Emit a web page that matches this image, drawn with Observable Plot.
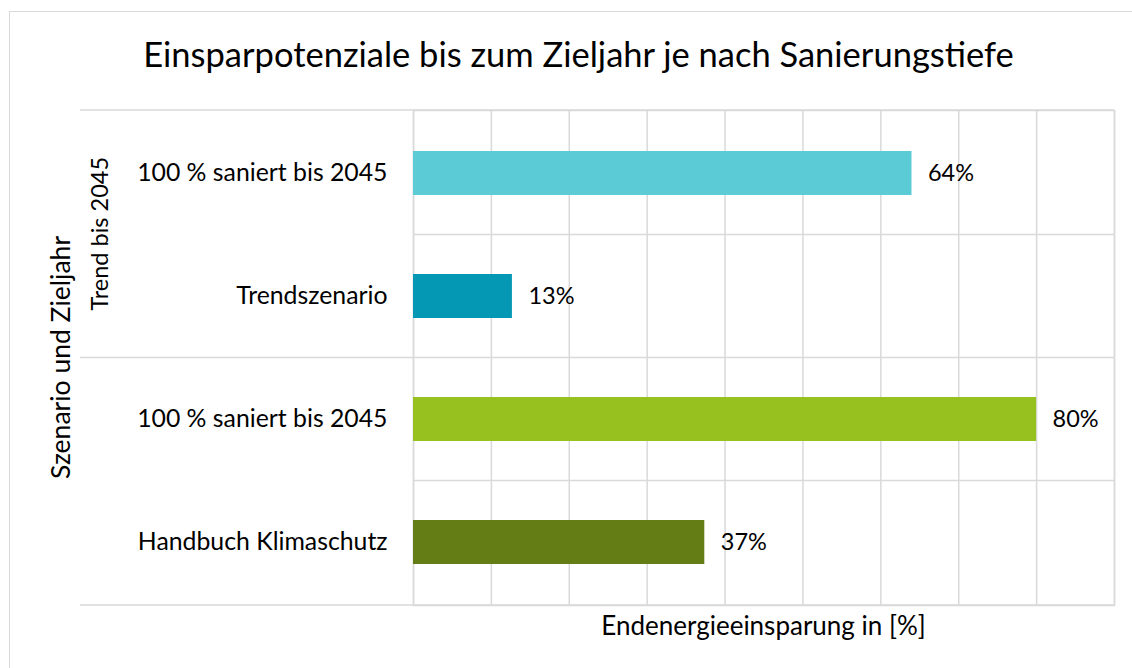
<!DOCTYPE html>
<html><head><meta charset="utf-8">
<script src="https://cdn.jsdelivr.net/npm/d3@7"></script>
<script src="https://cdn.jsdelivr.net/npm/@observablehq/plot@0.6"></script>
<style>
html,body{margin:0;padding:0;background:#fff;}
#wrap{position:relative;width:1132px;height:668px;overflow:hidden;font-family:Lato,sans-serif;color:#000;}
#border{position:absolute;left:9px;top:11px;width:1200px;height:700px;border-left:1.5px solid #d9d9d9;border-top:1.5px solid #d9d9d9;}
#chart{position:absolute;left:0;top:0;}
#title{position:absolute;left:0;top:37px;width:1132px;padding-left:25px;box-sizing:border-box;text-align:center;font-size:34.5px;line-height:34.5px;white-space:nowrap;}
</style></head>
<body><div id="wrap"><div id="border"></div><div id="chart"></div><div id="title"></div></div>
<script>
const title = "Einsparpotenziale bis zum Zieljahr je nach Sanierungstiefe";
const xTitle = "Endenergieeinsparung in [%]";
const yTitle = "Szenario und Zieljahr";
const categories = ["100 % saniert bis 2045", "Trendszenario", "100 % saniert bis 2045", "Handbuch Klimaschutz"];
const values = [0.64, 0.127, 0.80, 0.374];
const groupNames = ["Trend bis 2045", ""];
const groupIndex = [0, 0, 1, 1];
const colors = ["#5BCBD6", "#0598B4", "#97C11F", "#647D14"];
const xTicks = [0, 0.1, 0.2, 0.3, 0.4, 0.5, 0.6, 0.7, 0.8, 0.9];

document.getElementById("title").textContent = title;

const keys = categories.map((c, i) => String(i));
const rows = categories.map((c, i) => ({key: keys[i], label: c, value: values[i], group: groupIndex[i]}));
const lineColor = "#d9d9d9";

const chart = Plot.plot({
  width: 1132, height: 668,
  marginLeft: 413, marginRight: 18, marginTop: 110, marginBottom: 63,
  style: {fontFamily: "Lato, sans-serif", fontSize: "23px", color: "#000", background: "transparent"},
  x: {domain: [0, 0.9]},
  y: {domain: keys, paddingInner: 0.64, paddingOuter: 0.32},
  color: {domain: keys, range: colors},
  marks: [
    Plot.gridX(xTicks, {stroke: lineColor, strokeOpacity: 1, strokeWidth: 1.5}),
    Plot.frame({stroke: lineColor, strokeWidth: 1.5}),
    Plot.barX(rows, {x: "value", y: "key", fill: "key"}),
    Plot.text(rows, {x: "value", y: "key", text: d => Math.round(d.value * 100) + "%", textAnchor: "start", dx: 16, fill: "#000", fontSize: 23.5}),
    Plot.axisY({tickSize: 0, tickPadding: 26, tickFormat: k => categories[+k], fill: "#000", label: null, fontSize: 24.8}),
    Plot.axisX({ticks: [], label: null})
  ]
});
document.getElementById("chart").appendChild(chart);

const svg = d3.select(chart);
const ys = chart.scale("y");
const xs = chart.scale("x");
const [yTop, yBot] = ys.range;
const bw = ys.bandwidth;
const bounds = [yTop];
for (let i = 0; i < keys.length - 1; i++) {
  bounds.push((ys.apply(keys[i]) + bw + ys.apply(keys[i + 1])) / 2);
}
bounds.push(yBot);
const x0 = xs.apply(0), x1 = xs.apply(0.9);
const groupLeft = 80;
const g = svg.append("g");
bounds.forEach((b, i) => {
  const isGroupEdge = i === 0 || i === keys.length || groupIndex[i] !== groupIndex[i - 1];
  g.append("line")
    .attr("x1", isGroupEdge ? groupLeft : x0).attr("x2", x1)
    .attr("y1", b).attr("y2", b)
    .attr("stroke", lineColor).attr("stroke-width", 1.5);
});
groupNames.forEach((name, gi) => {
  if (!name) return;
  const idx = groupIndex.map((v, i) => v === gi ? i : -1).filter(i => i >= 0);
  const yc = (bounds[idx[0]] + bounds[idx[idx.length - 1] + 1]) / 2;
  g.append("text").attr("transform", `translate(108,${yc}) rotate(-90)`)
    .attr("text-anchor", "middle").attr("fill", "#000").attr("font-size", 23.5).text(name);
});
g.append("text").attr("transform", `translate(70,${(yTop + yBot) / 2}) rotate(-90)`)
  .attr("text-anchor", "middle").attr("fill", "#000").attr("font-size", 26.5).text(yTitle);
g.append("text").attr("x", (x0 + x1) / 2).attr("y", yBot + 30)
  .attr("text-anchor", "middle").attr("fill", "#000").attr("font-size", 26).text(xTitle);
</script>
</body></html>
